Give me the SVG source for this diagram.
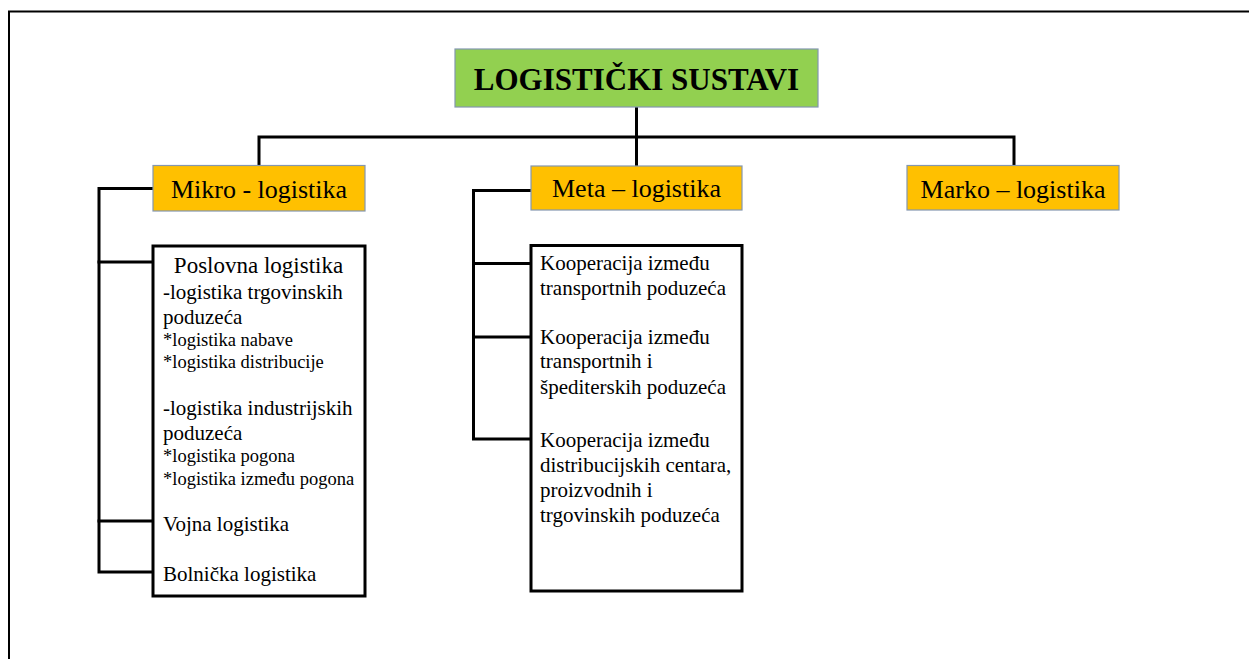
<svg xmlns="http://www.w3.org/2000/svg" width="1249" height="659" viewBox="0 0 1249 659">
<style>
.frame{fill:none;stroke:#000;stroke-width:2}
.conn{fill:none;stroke:#000;stroke-width:3;stroke-linejoin:miter;stroke-linecap:square}
.head{stroke:#8497B0;stroke-width:1.2}
.orange{fill:#FFC000}
.green{fill:#92D050}
.list{fill:#fff;stroke:#000;stroke-width:3}
.t26{font-size:26px;text-anchor:middle}
.t21{font-size:21px}
.t18{font-size:18.5px}
</style>
<rect width="1249" height="659" fill="#fff"/>
<rect class="frame" x="9" y="11.5" width="1260" height="700"/>
<g id="connectors">
<path class="conn" d="M636.5,107 V166"/>
<path class="conn" d="M259,165 V137 H1014 V165"/>
<path class="conn" d="M153,188.5 H99 V572 H153"/>
<path class="conn" d="M99,262 H153"/>
<path class="conn" d="M99,521 H153"/>
<path class="conn" d="M531,190.5 H473.5 V439 H531"/>
<path class="conn" d="M473.5,263.5 H531"/>
<path class="conn" d="M473.5,337 H531"/>
</g>
<g font-family="Liberation Serif, Times New Roman, DejaVu Serif, serif" fill="#000">
<g id="title">
<rect class="green head" x="455" y="49" width="363" height="58"/>
<text x="636.5" y="90" font-size="31" font-weight="bold" text-anchor="middle">LOGISTIČKI SUSTAVI</text>
</g>
<g id="mikro">
<rect class="orange head" x="153" y="165.5" width="212" height="45.5"/>
<text class="t26" x="259" y="198">Mikro - logistika</text>
</g>
<g id="meta">
<rect class="orange head" x="531" y="166" width="211" height="44"/>
<text class="t26" x="636.5" y="197">Meta – logistika</text>
</g>
<g id="marko">
<rect class="orange head" x="907" y="165.5" width="212" height="44.5"/>
<text class="t26" x="1013" y="198">Marko – logistika</text>
</g>
<g id="mikro-list">
<rect class="list" x="153" y="246" width="212" height="350"/>
<text x="258.5" y="273" font-size="23" text-anchor="middle">Poslovna logistika</text>
<text class="t21" x="163" y="299">-logistika trgovinskih</text>
<text class="t21" x="163" y="323.5">poduzeća</text>
<text class="t18" x="163" y="346">*logistika nabave</text>
<text class="t18" x="163" y="367.5">*logistika distribucije</text>
<text class="t21" x="163" y="415">-logistika industrijskih</text>
<text class="t21" x="163" y="440">poduzeća</text>
<text class="t18" x="163" y="462">*logistika pogona</text>
<text class="t18" x="163" y="484.5">*logistika između pogona</text>
<text class="t21" x="163" y="531">Vojna logistika</text>
<text class="t21" x="163" y="581">Bolnička logistika</text>
</g>
<g id="meta-list">
<rect class="list" x="531" y="245.5" width="211" height="345.5"/>
<text class="t21" x="540" y="270">Kooperacija između</text>
<text class="t21" x="540" y="295">transportnih poduzeća</text>
<text class="t21" x="540" y="343.5">Kooperacija između</text>
<text class="t21" x="540" y="368">transportnih i</text>
<text class="t21" x="540" y="393.5">špediterskih poduzeća</text>
<text class="t21" x="540" y="447">Kooperacija između</text>
<text class="t21" x="540" y="472">distribucijskih centara,</text>
<text class="t21" x="540" y="497">proizvodnih i</text>
<text class="t21" x="540" y="522">trgovinskih poduzeća</text>
</g>
</g>
</svg>
